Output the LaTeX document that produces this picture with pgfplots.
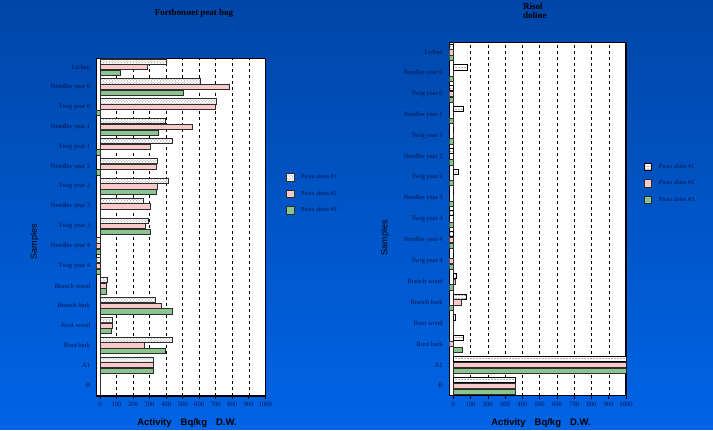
\documentclass[border=0pt]{standalone}
\usepackage{pgfplots}
\pgfplotsset{compat=1.18}
\usepackage{pgfplotstable}
\usetikzlibrary{patterns}
\usepackage{fontspec}
\setmainfont{Liberation Serif}
\newfontfamily\labfont{Liberation Sans}
\definecolor{bgtop}{RGB}{0,70,168}
\definecolor{bgbot}{RGB}{0,100,230}
\definecolor{navy}{RGB}{5,20,75}
\definecolor{pinkbar}{RGB}{250,202,202}
\definecolor{greenbar}{RGB}{138,196,142}
\definecolor{baredge}{RGB}{45,45,45}

\pgfplotstableread{
idx L1 L2 L3
16 404 286 122
15 610 784 502
14 704 698 -20
13 394 560 350
12 436 302 -20
11 346 338 -20
10 416 346 338
9 260 302 0
8 292 272 304
7 -20 -20 -20
6 -20 -20 -20
5 44 36 36
4 336 372 440
3 72 72 66
2 440 270 394
1 322 320 324
0 0 0 0
}\leftdata

\pgfplotstableread{
idx R1 R2 R3
16 -23 -23 -23
15 81 0 -23
14 -23 -23 -23
13 58 0 -23
12 0 0 -23
11 -23 0 -23
10 29 0 -23
9 0 0 -23
8 -23 0 -23
7 -23 -23 -23
6 0 -23 -23
5 15 13 -23
4 77 46 -23
3 12 0 0
2 58 -23 54
1 1000 1000 1000
0 361 361 361
}\rightdata

\pgfplotsset{
  panel/.style={
    scale only axis,
    xbar,
    xmax=1000,
    xtick={0,100,...,1000},
    ytick={0,...,16},
    yticklabels={B,A1,Root bark,Root wood,Branch bark,Branch wood,Twig year 4,Needles year 4,Twig year 3,Needles year 3,Twig year 2,Needles year 2,Twig year 1,Needles year 1,Twig year 0,Needles year 0,Lichen},
    xmajorgrids,
    major grid style={black, dashed, line width=0.45pt},
    axis line style={black, line width=1.1pt},
    tick align=outside,
    xtick pos=bottom,
    ytick pos=left,
    x tick style={black, line width=0.6pt},
    y tick style={draw=none},
    major tick length=3pt,
    tick label style={font=\fontsize{6.6}{7}\selectfont, text=navy},
    /pgf/number format/1000 sep={},
    /pgf/number format/assume math mode=true,
    bar width=5.2pt,
    axis background/.style={fill=white},
    extra x ticks={0},
    extra x tick labels={},
    extra x tick style={grid=major, major grid style={baredge, solid, line width=0.6pt}, tick style={draw=none}},
    legend style={draw=none, fill=none, font=\fontsize{6.2}{7}\selectfont, text=navy, anchor=north west, row sep=8.3pt, column sep=6pt, inner sep=0pt, nodes={inner sep=1pt}},
    legend cell align=left,
    legend image code/.code={\draw[#1, bar shift=0pt] (0pt,-3.8pt) rectangle (7.6pt,3.8pt);},
  },
}

\begin{document}
\begin{tikzpicture}
\shade[top color=bgtop, bottom color=bgbot] (0pt,0pt) rectangle (713pt,430pt);

\begin{axis}[panel,
  at={(96.7pt,34pt)}, anchor=south west,
  width=168.6pt, height=337.3pt,
  xmin=-20, ymin=-0.55, ymax=16.43,
  legend style={at={(1.121,0.662)}},
]
\addplot[draw=baredge, line width=0.7pt, fill=white, postaction={pattern=crosshatch dots, pattern color=black!50}, bar shift=5.7pt] table[x=L1, y=idx] {\leftdata};
\addplot[draw=baredge, line width=0.7pt, fill=pinkbar, bar shift=0pt] table[x=L2, y=idx] {\leftdata};
\addplot[draw=baredge, line width=0.7pt, fill=greenbar, bar shift=-5.7pt] table[x=L3, y=idx] {\leftdata};
\legend{Picea abies \#1, Picea abies \#2, Picea abies \#3}
\end{axis}

\begin{axis}[panel,
  at={(449.3pt,34.3pt)}, anchor=south west,
  width=176.7pt, height=353.4pt,
  xmin=-23, ymin=-0.48, ymax=16.48,
  legend style={at={(1.098,0.66)}},
]
\addplot[draw=black, line width=0.7pt, fill=white, postaction={pattern=dots, pattern color=black}, bar shift=5.8pt] table[x=R1, y=idx] {\rightdata};
\addplot[draw=baredge, line width=0.7pt, fill=pinkbar, bar shift=0pt] table[x=R2, y=idx] {\rightdata};
\addplot[draw=baredge, line width=0.7pt, fill=greenbar, bar shift=-5.8pt] table[x=R3, y=idx] {\rightdata};
\legend{Picea abies \#1, Picea abies \#2, Picea abies \#3}
\end{axis}

\node[font=\bfseries\fontsize{9}{10}\selectfont, text=black] at (194pt,417pt) {Fortbonnet peat bog};
\node[font=\bfseries\fontsize{9}{9.5}\selectfont, text=black, anchor=north west, align=left, inner sep=0pt] at (523pt,427pt) {Risol\\doline};

\node[font=\labfont\bfseries\fontsize{9.5}{10}\selectfont, text=black] at (187pt,7.3pt) {Activity\hspace{9pt}Bq/kg\hspace{9pt}D.W.};
\node[font=\labfont\bfseries\fontsize{9.5}{10}\selectfont, text=black] at (541pt,7.3pt) {Activity\hspace{9pt}Bq/kg\hspace{9pt}D.W.};

\node[font=\labfont\fontsize{9}{10}\selectfont, text=black, rotate=90] at (34.5pt,188pt) {Samples};
\node[font=\labfont\fontsize{9}{10}\selectfont, text=black, rotate=90] at (385pt,192pt) {Samples};
\end{tikzpicture}
\end{document}
